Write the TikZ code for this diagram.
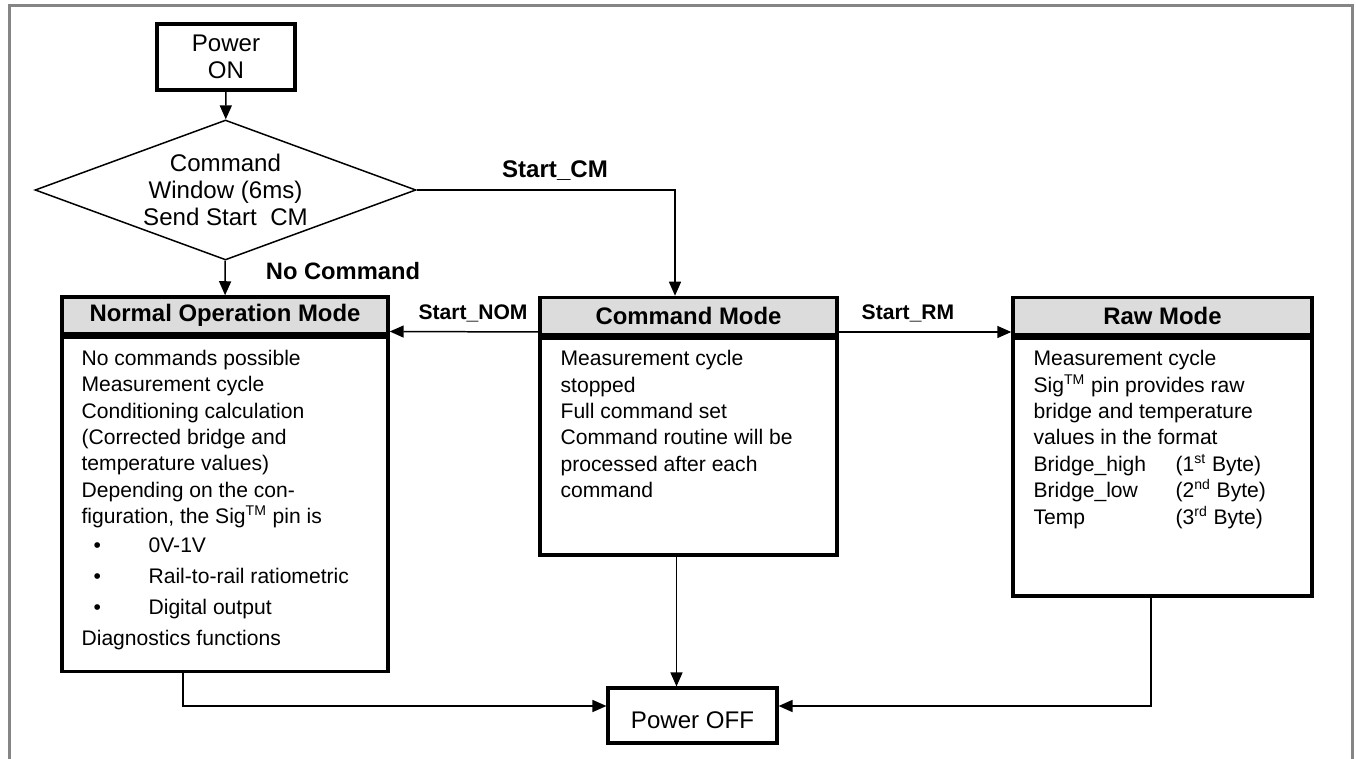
\documentclass[tikz,border=0pt]{standalone}
\usepackage{fontspec}
\setmainfont{Liberation Sans}
\usetikzlibrary{shapes.geometric,arrows.meta,positioning}
\newcommand{\modebullet}{\makebox[1.34cm][l]{\hspace{0.24cm}\textbullet}}

\begin{document}
\begin{tikzpicture}[x=0.02cm,y=-0.02cm,font=\fontsize{12}{15}\selectfont,
  arr/.style={line width=0.85pt,-{Triangle[length=0.28cm,width=0.24cm]}},
  boxnode/.style={draw,rectangle,line width=2pt,inner sep=0pt},
  bigtext/.style={font=\fontsize{13.7}{15.4}\selectfont},
  modehead/.style={boxnode,fill=headgray,minimum height=0.74cm,font=\fontsize{13.6}{15.4}\selectfont\bfseries},
  modebody/.style={boxnode},
  modetext/.style={anchor=north west,align=left,inner sep=0pt},
  lbl/.style={font=\fontsize{12}{15}\selectfont\bfseries}]
\definecolor{headgray}{HTML}{DCDCDC}
\definecolor{framegray}{HTML}{858585}
\useasboundingbox (0,0) rectangle (1356,759);
\draw[framegray,line width=2pt] (9.5,759) -- (9.5,5.5) -- (1352.5,5.5) -- (1352.5,759);

\node[boxnode,bigtext,minimum width=2.76cm,minimum height=1.32cm,align=center,line width=1.8pt] (pon) at (226,57) {Power\\ON};
\node[draw,diamond,bigtext,aspect=2.72,inner sep=0pt,minimum width=7.62cm,minimum height=2.8cm,line width=0.85pt,align=center] (win) at (225.5,190) {Command\\Window (6ms)\\Send Start~~CM};

\node[modehead,minimum width=6.52cm] (nomh) at (225,315.5) {Normal Operation Mode};
\node[modebody,minimum width=6.52cm,minimum height=6.68cm,below=0pt of nomh] (nom) {};
\node[modetext] (nomtxt) at ([xshift=0.42cm,yshift=-0.28cm]nom.north west) {No commands possible\\
  Measurement cycle\\
  Conditioning calculation\\
  (Corrected bridge and\\
  temperature values)\\
  Depending on the con-\\
  figuration, the Sig\textsuperscript{TM} pin is\\[1.7pt]
  \modebullet 0V-1V\\[2.5pt]
  \modebullet Rail-to-rail ratiometric\\[2.5pt]
  \modebullet Digital output\\[2.5pt]
  Diagnostics functions};

\node[modehead,minimum width=5.94cm] (cmh) at (688.5,316) {Command Mode};
\node[modebody,minimum width=5.94cm,minimum height=4.34cm,below=0pt of cmh] (cm) {};
\node[modetext] (cmtxt) at ([xshift=0.44cm,yshift=-0.28cm]cm.north west) {Measurement cycle\\
  stopped\\
  Full command set\\
  Command routine will be\\
  processed after each\\
  command};

\node[modehead,minimum width=5.98cm] (rawh) at (1162.5,316) {Raw Mode};
\node[modebody,minimum width=5.98cm,minimum height=5.16cm,below=0pt of rawh] (raw) {};
\node[modetext] (rawtxt) at ([xshift=0.44cm,yshift=-0.28cm]raw.north west) {Measurement cycle\\
  Sig\textsuperscript{TM} pin provides raw\\
  bridge and temperature\\
  values in the format\\
  \makebox[2.84cm][l]{Bridge\_high}(1\textsuperscript{st} Byte)\\
  \makebox[2.84cm][l]{Bridge\_low}(2\textsuperscript{nd} Byte)\\
  \makebox[2.84cm][l]{Temp}(3\textsuperscript{rd} Byte)};

\node[boxnode,bigtext,minimum width=3.38cm,minimum height=1.1cm,line width=1.8pt] (off) at (692.5,715.5) {\raisebox{-0.27cm}[0pt][0pt]{Power OFF}};

\draw[arr] (pon) -- (win);
\draw[arr] (win) -- (nomh);
\draw[arr] (win.east) -| ([xshift=-0.27cm]cmh.north);
\draw[arr] ([yshift=-0.32cm]cmh.west) -- ([yshift=-0.32cm]nomh.east);
\draw[arr] ([yshift=-0.32cm]cmh.east) -- ([yshift=-0.32cm]rawh.west);
\draw[arr] ([xshift=-0.24cm]cm.south) -- ([xshift=-0.24cm]cm.south |- off.north);
\draw[arr] ([xshift=-0.84cm]nom.south) |- ([yshift=0.19cm]off.west);
\draw[arr] ([xshift=-0.23cm]raw.south) |- ([yshift=0.19cm]off.east);

\node[lbl,font=\fontsize{13.7}{15}\selectfont\bfseries] (lcm) at (555,171) {Start\_CM};
\node[lbl,font=\fontsize{13.5}{15}\selectfont\bfseries] (lnc) at (343,271) {No Command};
\node[lbl] (lnom) at (473,313) {Start\_NOM};
\node[lbl] (lrm) at (908,313) {Start\_RM};
\end{tikzpicture}
\end{document}
